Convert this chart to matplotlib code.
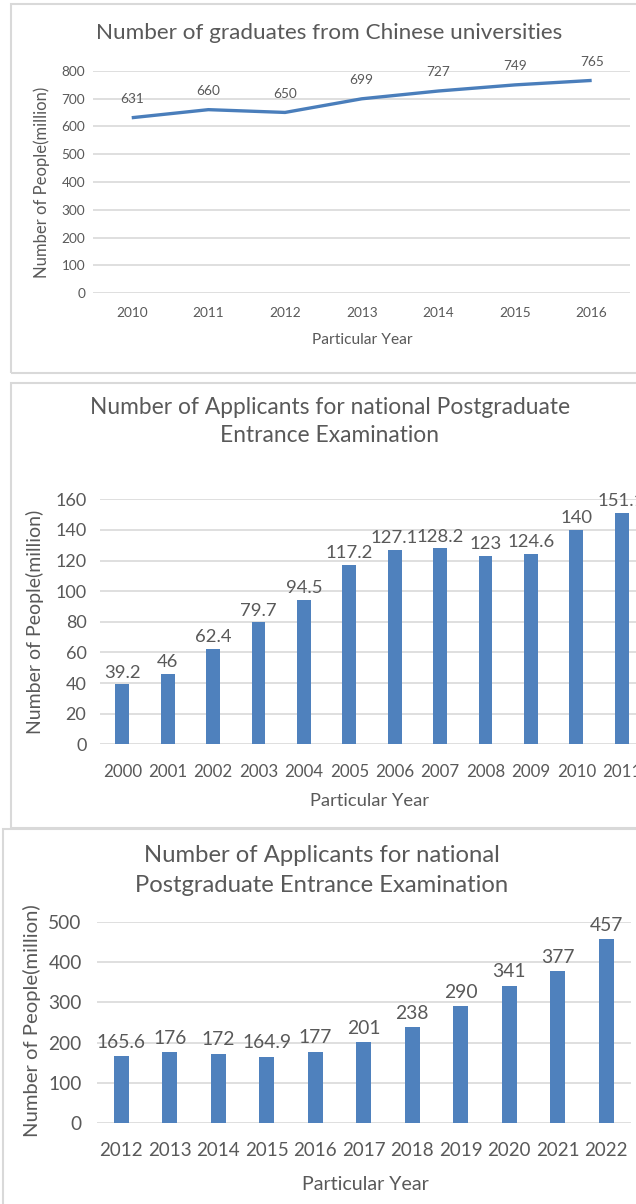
import matplotlib
matplotlib.use("Agg")
import matplotlib.pyplot as plt
from matplotlib.patches import Rectangle

plt.rcParams['font.family'] = ['Lato', 'DejaVu Sans']

# chart 1: graduates
grad_years = ['2010', '2011', '2012', '2013', '2014', '2015', '2016']
grad_values = [631, 660, 650, 699, 727, 749, 765]

# chart 2: applicants 2000-2011
app_years_a = ['2000', '2001', '2002', '2003', '2004', '2005',
               '2006', '2007', '2008', '2009', '2010', '2011']
app_values_a = [39.2, 46, 62.4, 79.7, 94.5, 117.2, 127.1, 128.2, 123, 124.6, 140, 151.1]

# chart 3: applicants 2012-2022
app_years_b = ['2012', '2013', '2014', '2015', '2016', '2017',
               '2018', '2019', '2020', '2021', '2022']
app_values_b = [165.6, 176, 172, 164.9, 177, 201, 238, 290, 341, 377, 457]

W, H = 636, 1204
TXT = '#595959'
GRID = '#d9d9d9'
BLUE = '#4a7ebb'
BAR = '#4f81bd'

fig = plt.figure(figsize=(W / 100, H / 100), dpi=100)


def box(l, t, r, b):
    # pixel box -> figure fraction
    return [l / W, 1 - b / H, (r - l) / W, (b - t) / H]


def fx(x):
    return x / W


def fy(y):
    return 1 - y / H


def style(ax, xfs, yfs, xpad, ypad):
    for s in ax.spines.values():
        s.set_visible(False)
    ax.yaxis.grid(True, color=GRID, lw=1.2)
    ax.set_axisbelow(True)
    ax.tick_params(length=0, colors=TXT)
    ax.tick_params(axis='x', pad=xpad, labelsize=xfs)
    ax.tick_params(axis='y', pad=ypad, labelsize=yfs)
    ax.set_facecolor('none')


# panel borders
for (l, t, r, b) in [(11, 4, 660, 372.7), (11, 382.7, 660, 828), (3, 829, 660, 1220)]:
    fig.add_artist(Rectangle((fx(l), fy(b)), (r - l) / W, (b - t) / H,
                             transform=fig.transFigure, fill=False,
                             edgecolor=GRID, lw=1.5))

# ---- chart 1 ----
ax1 = fig.add_axes(box(93.4, 70.7, 630, 293.3))
x1 = range(len(grad_years))
ax1.plot(x1, grad_values, color=BLUE, lw=2.4, solid_capstyle='butt')
ax1.set_xlim(-0.5, len(grad_years) - 0.5)
ax1.set_ylim(0, 800)
ax1.set_yticks(range(0, 801, 100))
ax1.set_xticks(list(x1))
ax1.set_xticklabels(grad_years)
style(ax1, 9.8, 9.8, 10, 6)
for xi, v in zip(x1, grad_values):
    ax1.annotate(str(v), (xi, v), xytext=(0, 13.5), textcoords='offset points',
                 ha='center', va='center', fontsize=9.8, color=TXT)
fig.text(fx(329), fy(33), 'Number of graduates from Chinese universities',
         ha='center', va='center', fontsize=16.2, color=TXT)
fig.text(fx(42), fy(182), 'Number of People(million)', rotation=90,
         ha='center', va='center', fontsize=12, color=TXT)
fig.text(fx(362), fy(340), 'Particular Year', ha='center', va='center',
         fontsize=11.2, color=TXT)

# ---- chart 2 ----
ax2 = fig.add_axes(box(99.6, 499.3, 99.6 + 12 * 45.4, 744.3))
x2 = range(len(app_years_a))
bars2 = ax2.bar(x2, app_values_a, width=0.3, color=BAR)
ax2.set_xlim(-0.5, len(app_years_a) - 0.5)
ax2.set_ylim(0, 160)
ax2.set_yticks(range(0, 161, 20))
ax2.set_xticks(list(x2))
ax2.set_xticklabels(app_years_a)
style(ax2, 12.2, 13, 14, 9.5)
ax2.bar_label(bars2, labels=[f'{v:g}' for v in app_values_a], padding=2.5,
              fontsize=13.3, color=TXT)
fig.text(fx(330), fy(408), 'Number of Applicants for national Postgraduate',
         ha='center', va='center', fontsize=16.4, color=TXT)
fig.text(fx(330), fy(436), 'Entrance Examination',
         ha='center', va='center', fontsize=16.4, color=TXT)
fig.text(fx(35), fy(622), 'Number of People(million)', rotation=90,
         ha='center', va='center', fontsize=14, color=TXT)
fig.text(fx(370), fy(801), 'Particular Year', ha='center', va='center',
         fontsize=13.2, color=TXT)

# ---- chart 3 ----
ax3 = fig.add_axes(box(97, 922, 97 + 11 * 48.5, 1123))
x3 = range(len(app_years_b))
bars3 = ax3.bar(x3, app_values_b, width=0.31, color=BAR)
ax3.set_xlim(-0.5, len(app_years_b) - 0.5)
ax3.set_ylim(0, 500)
ax3.set_yticks(range(0, 501, 100))
ax3.set_xticks(list(x3))
ax3.set_xticklabels(app_years_b)
style(ax3, 13.5, 13.8, 14, 11)
ax3.bar_label(bars3, labels=[f'{v:g}' for v in app_values_b], padding=4,
              fontsize=13.9, color=TXT)
fig.text(fx(322), fy(856), 'Number of Applicants for national',
         ha='center', va='center', fontsize=17.2, color=TXT)
fig.text(fx(322), fy(886), 'Postgraduate Entrance Examination',
         ha='center', va='center', fontsize=17.2, color=TXT)
fig.text(fx(32), fy(1021), 'Number of People(million)', rotation=90,
         ha='center', va='center', fontsize=14.6, color=TXT)
fig.text(fx(365), fy(1185), 'Particular Year', ha='center', va='center',
         fontsize=14.1, color=TXT)

fig.savefig('out.png', dpi=100)
